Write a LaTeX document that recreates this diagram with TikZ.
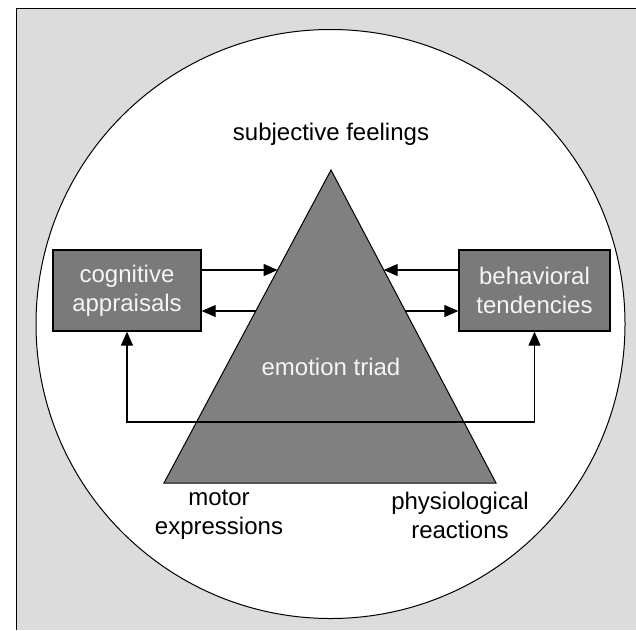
\documentclass[tikz,border=0pt]{standalone}
\usepackage{fontspec}
\setmainfont{Liberation Sans}
\usetikzlibrary{arrows.meta,positioning,calc}
\definecolor{paneground}{RGB}{220,220,220}
\definecolor{triadgray}{RGB}{128,128,128}
\definecolor{boxgray}{RGB}{122,122,122}
\definecolor{labelwhite}{RGB}{245,245,245}

\begin{document}
\begin{tikzpicture}[
        x=1pt, y=-1pt,
        font=\fontsize{24}{29}\selectfont,
        box/.style={rectangle, draw=black, fill=boxgray, line width=1.3pt, minimum width=148pt, minimum height=81pt, align=center, text=labelwhite, inner sep=2pt},
        label/.style={align=center, text=black},
        arrow/.style={-{Triangle[length=14pt,width=12pt]}, line width=1.2pt, black},
        twoway/.style={{Triangle[length=14pt,width=12pt]}-{Triangle[length=14pt,width=12pt]}, line width=1.2pt, black}
    ]
        \useasboundingbox (0,0) rectangle (636,630);

        % Panel and circle
        \fill[paneground] (16,8) rectangle (636,630);
        \draw[line width=1pt] (16,630) -- (16,8) -- (636,8);
        \draw[fill=white, line width=1pt] (330.5,324) circle (294.5);

        % Triangle corners
        \coordinate (apex) at (331,170);
        \coordinate (bl) at (164,483);
        \coordinate (br) at (496,483);
        \fill[triadgray] (apex) -- (bl) -- (br) -- cycle;
        \draw[line width=1pt] (apex) -- (bl) -- (br) -- cycle;

        % Labels
        \node[label] (feel) at (331,134) {subjective feelings};
        \node[label, text=labelwhite] (triad) at (331,367) {emotion triad};
        \node[label] (motor) at (219,515) {motor\\expressions};
        \node[label] (physio) at (460,515) {physiological\\reactions};

        % Side boxes
        \node[box] (cog) at (127,290.5) {cognitive\\appraisals};
        \node[box, minimum width=151pt] (beh) at (534.5,290.5) {behavioral\\tendencies};

        % Points on the triangle edges
        \coordinate (lup) at ($(apex)!0.3195!(bl)$);
        \coordinate (llo) at ($(apex)!0.4505!(bl)$);
        \coordinate (rup) at ($(apex)!0.3195!(br)$);
        \coordinate (rlo) at ($(apex)!0.4505!(br)$);
        \coordinate (loop) at (331,422);

        % Arrows between boxes and triad
        \draw[arrow] (cog.east |- lup) -- (lup);
        \draw[arrow] (llo) -- (cog.east |- llo);
        \draw[arrow] (beh.west |- rup) -- (rup);
        \draw[arrow] (rlo) -- (beh.west |- rlo);

        % Feedback loop under the boxes
        \draw[twoway] (cog.south) -- (cog.south |- loop) -- (beh.south |- loop) -- (beh.south);

    \end{tikzpicture}
\end{document}
